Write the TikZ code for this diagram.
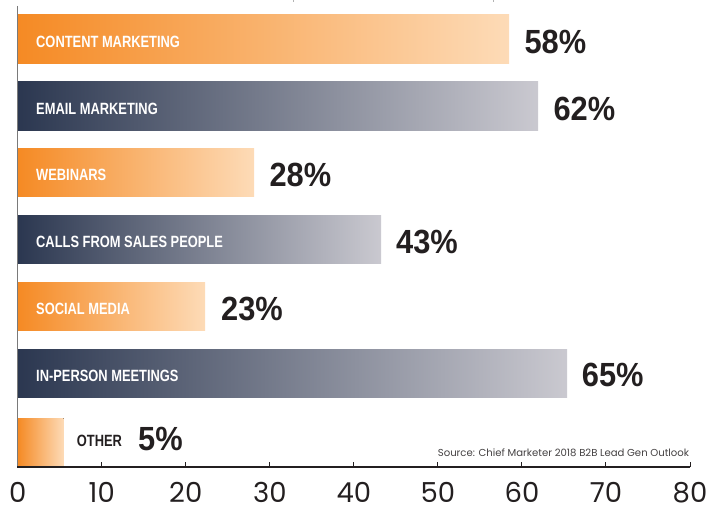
\documentclass[tikz,border=0pt]{standalone}
\usepackage{fontspec}
\setmainfont{Liberation Sans}
\newfontfamily\barfont[FakeStretch=0.79]{Liberation Sans}
\newfontfamily\pctfont[FakeStretch=0.92]{Liberation Sans}
\newfontfamily\tickfont{Poppins}
\definecolor{orA}{HTML}{F58A24}
\definecolor{orB}{HTML}{FDDBB7}
\definecolor{dkA}{HTML}{2B3750}
\definecolor{dkM}{HTML}{6E6C7E}
\definecolor{dkB}{HTML}{CAC9D0}
\definecolor{ink}{HTML}{231F20}
\definecolor{axisgray}{HTML}{7A7A7A}
\tikzset{
  orangebar/.style={left color=orA, right color=orB, draw=none},
  darkbar/.style={left color=dkA, middle color=dkM, right color=dkB, draw=none},
  barlabel/.style={anchor=base west, text=white, inner sep=0pt,
    font=\barfont\bfseries\fontsize{16.3}{16.3}\selectfont},
  otherlabel/.style={barlabel, text=ink},
  pctlabel/.style={anchor=base west, text=ink, inner sep=0pt,
    font=\pctfont\bfseries\fontsize{33.5}{33.5}\selectfont},
  ticklabel/.style={anchor=base, text=ink, inner sep=0pt, text depth=0pt,
    font=\tickfont\fontsize{27.5}{27.5}\selectfont},
  sourcelabel/.style={anchor=base east, text=ink!85, inner sep=0pt,
    font=\tickfont\fontsize{10.1}{10.1}\selectfont},
  axisline/.style={line width=1.2pt, draw=ink},
}
\begin{document}
\begin{tikzpicture}[x=1pt,y=-1pt]
\useasboundingbox (0,0) rectangle (708,505);
% faint marks at top edge
\draw[gray!60, line width=0.8pt] (293,0) -- (293,2);
\draw[gray!60, line width=0.8pt] (493,0) -- (493,2);
% bars
\fill[orangebar] (17.7,15)    rectangle (509,63.3);
\fill[darkbar]   (17.7,82)    rectangle (538,130.3);
\fill[orangebar] (17.7,148.6) rectangle (254,196.9);
\fill[darkbar]   (17.7,215.4) rectangle (381,263.7);
\fill[orangebar] (17.7,282.2) rectangle (205,330.5);
\fill[darkbar]   (17.7,349)   rectangle (567,397.3);
\fill[orangebar] (17.7,418.3) rectangle (63.7,466.7);
% bar labels
\node[barlabel] (l1) at (36,47.4)  {CONTENT MARKETING};
\node[barlabel] (l2) at (36,114.2) {EMAIL MARKETING};
\node[barlabel] (l3) at (36,180.8) {WEBINARS};
\node[barlabel] (l4) at (36,247.6) {CALLS FROM SALES PEOPLE};
\node[barlabel] (l5) at (36,314.4) {SOCIAL MEDIA};
\node[barlabel] (l6) at (36,381)   {IN-PERSON MEETINGS};
\node[otherlabel] (l7) at (76.7,446) {OTHER};
% percentages
\node[pctlabel] (p1) at (524.3,53.3)  {58\%};
\node[pctlabel] (p2) at (553.3,120.2) {62\%};
\node[pctlabel] (p3) at (269.3,186.8) {28\%};
\node[pctlabel] (p4) at (396,253.6)   {43\%};
\node[pctlabel] (p5) at (221,320.4)   {23\%};
\node[pctlabel] (p6) at (581.7,386.7) {65\%};
\node[pctlabel] (p7) at (138,450)     {5\%};
% axes
\draw[line width=1.2pt, draw=axisgray] (17.7,6) -- (17.7,467);
\draw[axisline] (17.1,467) -- (690,467);
\foreach \k in {1,...,8} {
  \draw[line width=1pt, draw=ink] ({17.7+84.04*\k},467) -- ({17.7+84.04*\k},461.5);
}
\foreach \k in {0,...,8} {
  \node[ticklabel] (t\k) at ({17.7+84.04*\k},502.5) {\the\numexpr\k*10\relax};
}
\node[sourcelabel] (src) at (689.3,456.7) {Source: Chief Marketer 2018 B2B Lead Gen Outlook};
\end{tikzpicture}
\end{document}
